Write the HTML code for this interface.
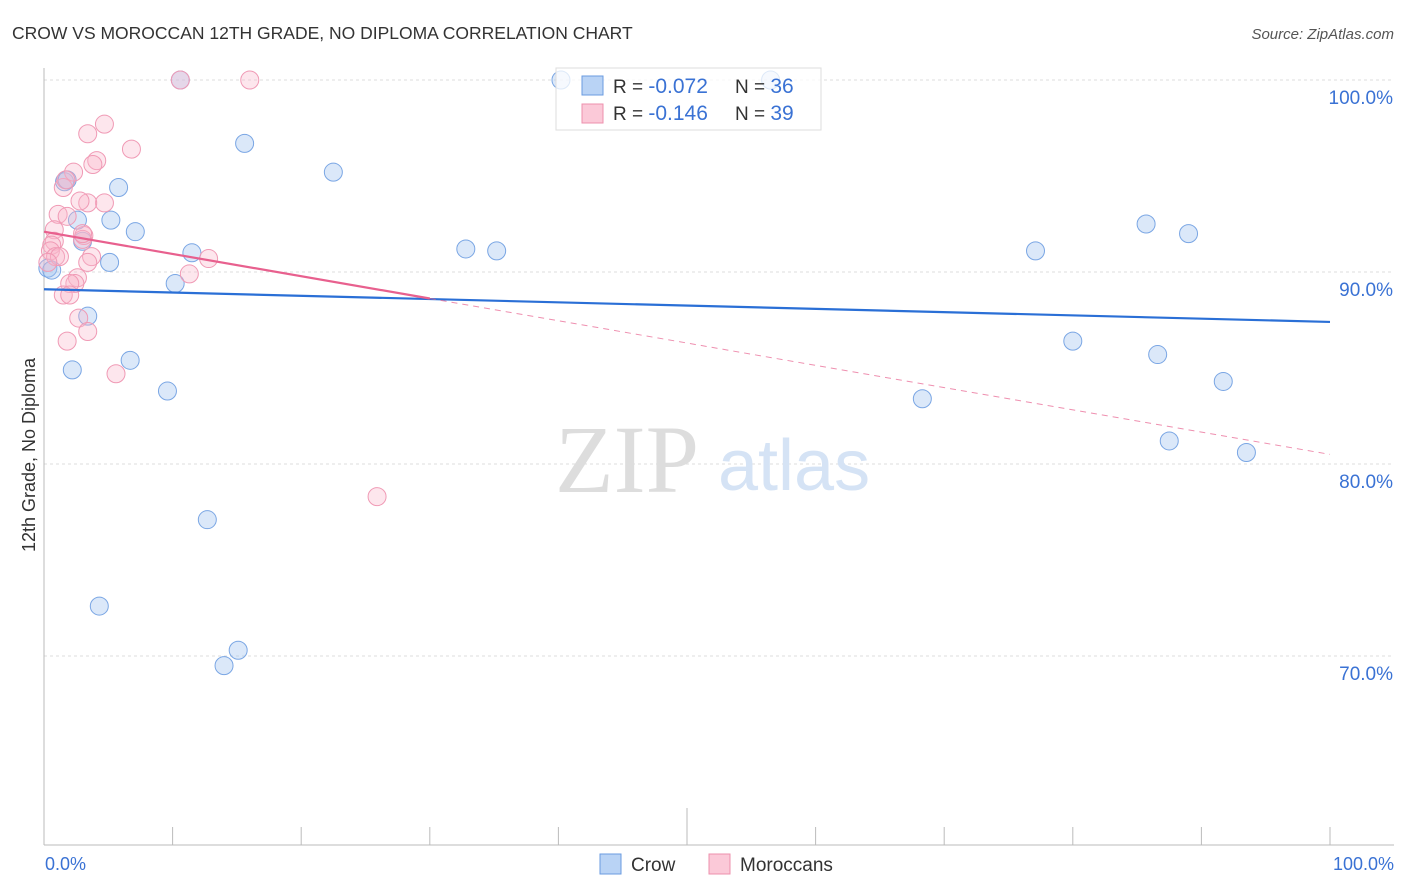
<!DOCTYPE html>
<html><head><meta charset="utf-8"><style>
body{margin:0;background:#fff;font-family:"Liberation Sans",sans-serif;}
svg{display:block}
</style></head><body>
<svg id="chart" width="1406" height="892">
<text x="12" y="39" font-size="17.5" fill="#333">CROW VS MOROCCAN 12TH GRADE, NO DIPLOMA CORRELATION CHART</text>
<text x="1394" y="39" font-size="15" fill="#555" font-style="italic" text-anchor="end">Source: ZipAtlas.com</text>
<text x="0" y="0" transform="translate(35,455) rotate(-90)" font-size="18" fill="#333" text-anchor="middle">12th Grade, No Diploma</text>
<g id="grid"></g>
<text x="555" y="492" font-size="96" fill="#ddd" font-family="Liberation Serif,serif">ZIP</text>
<text x="718" y="490" font-size="72" fill="#d5e3f5">atlas</text>
<g id="marks"></g>
<g id="lines"></g>
<g>
<rect x="556" y="68" width="265" height="62" fill="#fff" fill-opacity="0.75" stroke="#ddd"/>
<rect x="582" y="76" width="21" height="19" fill="#b9d3f5" stroke="#6a9be0"/>
<rect x="582" y="104" width="21" height="19" fill="#fbc9d8" stroke="#ee90ad"/>
<text x="613" y="93" font-size="19" fill="#333">R = <tspan fill="#3a72d4" font-size="21">-0.072</tspan></text>
<text x="735" y="93" font-size="19" fill="#333">N = <tspan fill="#3a72d4" font-size="21">36</tspan></text>
<text x="613" y="120" font-size="19" fill="#333">R = <tspan fill="#3a72d4" font-size="21"> -0.146</tspan></text>
<text x="735" y="120" font-size="19" fill="#333">N = <tspan fill="#3a72d4" font-size="21">39</tspan></text>
</g>
<g>
<rect x="600" y="854" width="21" height="20" fill="#b9d3f5" stroke="#6a9be0"/>
<text x="631" y="871" font-size="19" fill="#333">Crow</text>
<rect x="709" y="854" width="21" height="20" fill="#fbc9d8" stroke="#ee90ad"/>
<text x="740" y="871" font-size="19" fill="#333">Moroccans</text>
</g>
<text x="45" y="870" font-size="18" fill="#3a72d4">0.0%</text>
<text x="1394" y="870" font-size="18" fill="#3a72d4" text-anchor="end">100.0%</text>
</svg>
<script>
const yTicks=[100,90,80,70];
const xTicks=[0,10,20,30,40,50,60,70,80,90,100];
const crowX=[10.6,40.2,56.5,15.6,22.5,5.8,1.6,1.8,2.6,5.2,7.1,3,11.5,5.1,0.3,0.6,10.2,32.8,35.2,77.1,85.7,89,3.4,2.2,6.7,9.6,80,86.6,91.7,68.3,87.5,93.5,12.7,4.3,15.1,14];
const crowY=[100,100,100,96.7,95.2,94.4,94.7,94.8,92.7,92.7,92.1,91.6,91,90.5,90.2,90.1,89.4,91.2,91.1,91.1,92.5,92,87.7,84.9,85.4,83.8,86.4,85.7,84.3,83.4,81.2,80.6,77.1,72.6,70.3,69.5];
const morX=[10.6,16,4.7,3.4,6.8,4.1,3.8,2.3,1.5,1.7,4.7,3.4,2.8,1.1,1.8,0.8,3.1,0.8,0.6,3,0.5,0.9,1.2,0.3,3.7,3.4,12.8,11.3,2.6,2.4,2,1.5,2,2.7,3.4,1.8,5.6,25.9,3];
const morY=[100,100,97.7,97.2,96.4,95.8,95.6,95.2,94.4,94.8,93.6,93.6,93.7,93,92.9,92.2,91.9,91.6,91.4,91.7,91.1,90.8,90.8,90.5,90.8,90.5,90.7,89.9,89.7,89.4,89.4,88.8,88.8,87.6,86.9,86.4,84.7,78.3,92];
const crowTrend=[89.1,87.4];
const morTrend=[92.1,80.5];
const X=v=>44+v*12.86, Y=v=>80+(100-v)*19.2;
const NS="http://www.w3.org/2000/svg";
function mk(g,t,a){const e=document.createElementNS(NS,t);for(const k in a)e.setAttribute(k,a[k]);document.getElementById(g).appendChild(e);return e;}
yTicks.forEach(t=>{
 const l=mk('grid','line',{x1:44,x2:1394,y1:Y(t),y2:Y(t),stroke:'#ddd','stroke-dasharray':'3,3'});
 
 
 const tx=mk('grid','text',{x:1393,y:Y(t)+24,'font-size':19,fill:'#3a72d4','text-anchor':'end'});
 tx.textContent=t.toFixed(1)+'%';
 
 
});
const ax=mk('grid','line',{x1:44,x2:44,y1:68,y2:845,stroke:'#bbb'});


const bx=mk('grid','line',{x1:44,x2:1394,y1:845,y2:845,stroke:'#bbb'});


xTicks.forEach(t=>{
 const l=mk('grid','line',{x1:X(t),x2:X(t),y1:t==50?808:827,y2:845,stroke:'#bbb'});
 
 
});
crowX.forEach((x,i)=>{
 const c=mk('marks','circle',{cx:X(x),cy:Y(crowY[i]),r:9,fill:'rgba(165,198,240,0.4)',stroke:'#7aa6e4','stroke-width':1});
 
 
});
morX.forEach((x,i)=>{
 const c=mk('marks','circle',{cx:X(x),cy:Y(morY[i]),r:9,fill:'rgba(248,182,202,0.35)',stroke:'#f09ab5','stroke-width':1});
 
 
});
const cl=mk('lines','line',{x1:X(0),y1:Y(crowTrend[0]),x2:X(100),y2:Y(crowTrend[1]),stroke:'#2a6fd6','stroke-width':2.2});


const mAt=x=>morTrend[0]+(morTrend[1]-morTrend[0])*x/100;
const ml=mk('lines','line',{x1:X(0),y1:Y(mAt(0)),x2:X(30),y2:Y(mAt(30)),stroke:'#e8608e','stroke-width':2.2});


const md=mk('lines','line',{x1:X(30),y1:Y(mAt(30)),x2:X(100),y2:Y(mAt(100)),stroke:'#e8608e','stroke-width':1,'stroke-dasharray':'6,5',opacity:0.7});


</script>
</body></html>
